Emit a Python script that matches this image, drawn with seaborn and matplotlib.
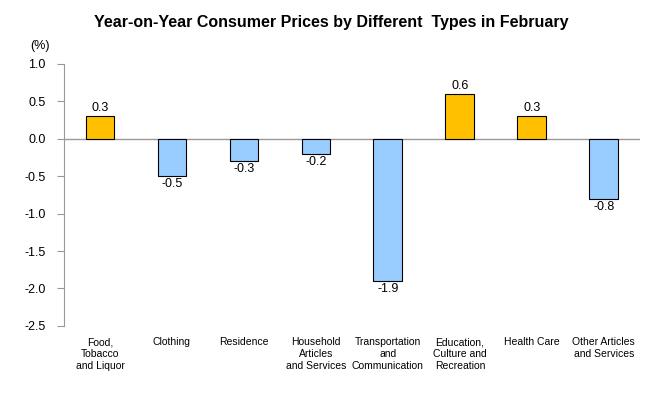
import matplotlib
matplotlib.use("Agg")
import matplotlib.pyplot as plt
import seaborn as sns
import pandas as pd

categories = ["Food,\nTobacco\nand Liquor", "Clothing", "Residence",
              "Household\nArticles\nand Services", "Transportation\nand\nCommunication",
              "Education,\nCulture and\nRecreation", "Health Care", "Other Articles\nand Services"]
values = [0.3, -0.5, -0.3, -0.2, -1.9, 0.6, 0.3, -0.8]
yticks = [1.0, 0.5, 0.0, -0.5, -1.0, -1.5, -2.0, -2.5]

sns.set_style("white")
plt.rcParams['font.family'] = ['Liberation Sans', 'DejaVu Sans']
plt.rcParams['text.color'] = 'black'
plt.rcParams['xtick.labelcolor'] = 'black'
plt.rcParams['ytick.labelcolor'] = 'black'

df = pd.DataFrame({"cat": categories, "val": values,
                   "sign": ["pos" if v > 0 else "neg" for v in values]})

fig = plt.figure(figsize=(6.63, 4.12), dpi=100)
ax = fig.add_axes([0.0965, 0.209, 0.8685, 0.636])
sns.barplot(data=df, x="cat", y="val", hue="sign", dodge=False, width=0.4,
            palette={"pos": "#FFC000", "neg": "#99CCFF"}, saturation=1,
            edgecolor="black", linewidth=0.8, legend=False, ax=ax, zorder=3)

ax.set_ylim(-2.5, 1.0)
ax.set_xlim(-0.5, len(categories) - 0.5)
ax.set_yticks(yticks)
ax.set_yticklabels([f"{t:.1f}" for t in yticks], fontsize=9, color="black")
ax.axhline(0, color="#999999", linewidth=1, zorder=2)
for s in ["top", "right", "bottom"]:
    ax.spines[s].set_visible(False)
ax.spines["left"].set_color("#999999")
ax.tick_params(axis="y", left=True, direction="out", length=5, width=0.8,
               color="#999999", pad=8)
ax.tick_params(axis="x", bottom=False, length=0, pad=8)
ax.set_xticks(range(len(categories)))
ax.set_xticklabels(categories, fontsize=7.5, va="top", linespacing=1.25, color="black")
ax.set_xlabel("")
ax.set_ylabel("")

for i, v in enumerate(values):
    if v > 0:
        ax.text(i, v + 0.03, f"{v:.1f}", ha="center", va="bottom", fontsize=9, color="black")
    else:
        ax.text(i, v - 0.03, f"{v:.1f}", ha="center", va="top", fontsize=9, color="black")

fig.text(0.045, 0.875, "(%)", fontsize=9, ha="left", va="bottom", color="black")
fig.text(0.5, 0.945, "Year-on-Year Consumer Prices by Different  Types in February",
         fontsize=11.5, fontweight="bold", ha="center", va="center", color="black")

fig.savefig("out.png", dpi=100)
